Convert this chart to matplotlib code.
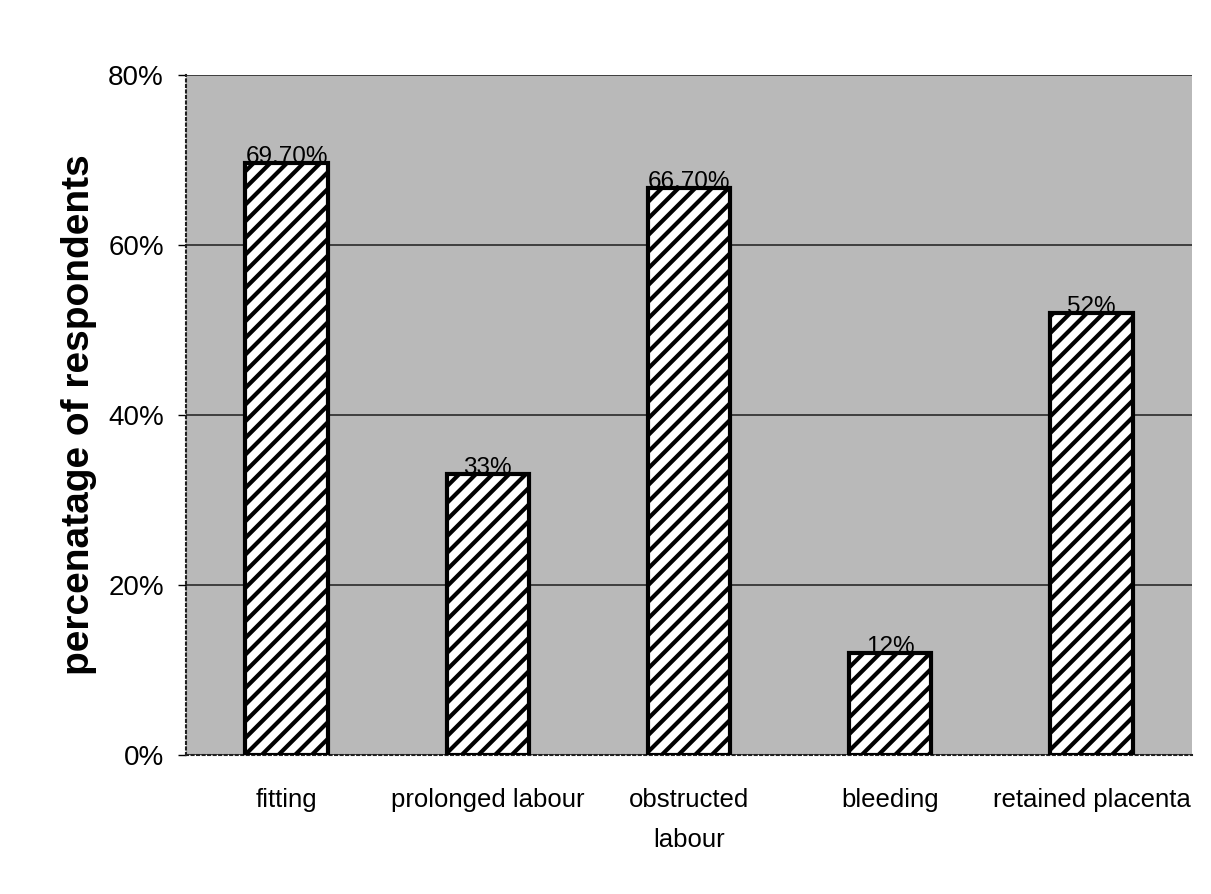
import matplotlib.pyplot as plt
import numpy as np

plt.rcParams['font.family'] = ['Liberation Sans', 'DejaVu Sans']
plt.rcParams['hatch.linewidth'] = 3.0

categories = ["fitting", "prolonged labour", "obstructed\nlabour", "bleeding", "retained placenta"]
values = [0.697, 0.33, 0.667, 0.12, 0.52]
value_labels = ["69.70%", "33%", "66.70%", "12%", "52%"]
y_ticks = [0, 0.2, 0.4, 0.6, 0.8]
y_tick_labels = ["0%", "20%", "40%", "60%", "80%"]

fig = plt.figure(figsize=(12.11, 8.94), dpi=100)
ax = fig.add_axes([0.1536, 0.1555, 0.8307, 0.7606])
ax.set_facecolor('#b9b9b9')

x = np.arange(len(categories))
ax.bar(x, values, width=0.41, color='white', edgecolor='black',
       linewidth=3, hatch='//', zorder=3)

# value labels sit on top of each bar
for xi, v, lab in zip(x, values, value_labels):
    ax.text(xi, v, lab, ha='center', va='baseline', fontsize=17.5, zorder=4)

ax.set_xlim(-0.5, len(categories) - 0.5)
ax.set_ylim(0, 0.8)
ax.set_yticks(y_ticks)
ax.set_yticklabels(y_tick_labels, fontsize=20)
ax.set_xticks(x)
ax.set_xticklabels(categories, fontsize=18.5)
for t in ax.get_xticklabels():
    t.set_linespacing(1.8)
ax.tick_params(axis='x', length=0, pad=24)
ax.tick_params(axis='y', length=6, width=1, pad=10)

ax.yaxis.grid(True, color='#2a2a2a', linewidth=1.2, zorder=1)
ax.set_axisbelow(True)

for s in ['top', 'right']:
    ax.spines[s].set_visible(False)
for s in ['left', 'bottom']:
    ax.spines[s].set_linestyle(':')
    ax.spines[s].set_linewidth(1.5)
    ax.spines[s].set_color('#202020')

ax.set_ylabel('percenatage of respondents', fontsize=28, fontweight='bold', labelpad=8)

fig.savefig('out.png', dpi=100)
